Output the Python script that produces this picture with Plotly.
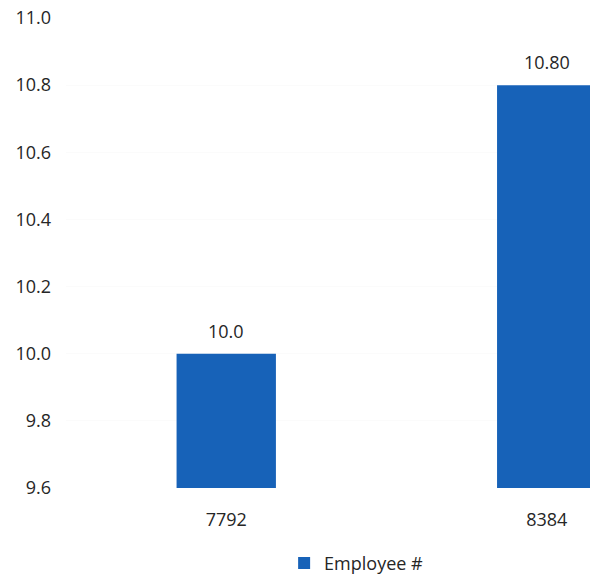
import plotly.graph_objects as go

# data
categories = ["7792", "8384"]
values = [10.0, 10.8]
value_labels = ["10.0", "10.80"]
series_name = "Employee #"
y_ticks = [9.6, 9.8, 10.0, 10.2, 10.4, 10.6, 10.8, 11.0]
y_floor = 9.6

BAR_BLUE = "#1762b8"
TEXT = "#262626"

fig = go.Figure()
fig.add_trace(go.Bar(
    x=categories, y=[v - y_floor for v in values], base=y_floor,
    name=series_name,
    marker=dict(color=BAR_BLUE, line=dict(width=0)),
    showlegend=True, hoverinfo="skip",
))

# value labels sit a little higher above the bars than plotly's outside text
# (category names look numeric, so annotations use the category index)
for i, (v, lab) in enumerate(zip(values, value_labels)):
    fig.add_annotation(x=i, y=v, text=lab, showarrow=False,
                       yanchor="bottom", yshift=9,
                       font=dict(size=18, color=TEXT))

# the page body has an 8px margin, so the figure is drawn 8px smaller
fig.update_layout(
    width=590, height=567,
    margin=dict(l=58, r=0, t=10, b=87, autoexpand=False),
    paper_bgcolor="white", plot_bgcolor="white",
    font=dict(family="Open Sans", size=18, color=TEXT),
    bargap=0.69,
    showlegend=True,
    legend=dict(orientation="h", x=0.41, xanchor="left", y=-0.16, yanchor="middle",
                font=dict(size=18, color=TEXT)),
    xaxis=dict(type="category", range=[-0.5, 1.16], showgrid=False, showline=False,
               zeroline=False, ticks="", ticklabelstandoff=19, automargin=False),
    yaxis=dict(range=[9.6, 11.0], tickvals=y_ticks,
               ticktext=[f"{t:.1f}" for t in y_ticks],
               showgrid=True, gridcolor="#fbfbfb", zeroline=False, showline=False,
               ticks="", ticklabelstandoff=14, automargin=False,
               ticklabeloverflow="allow"),
)

fig.write_html("out.html")
